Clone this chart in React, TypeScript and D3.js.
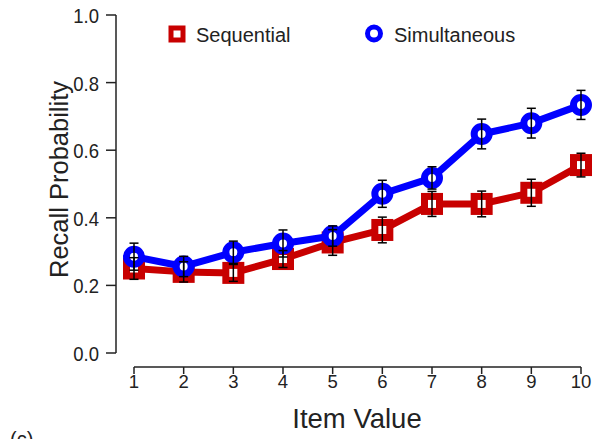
import React from "react";
import * as d3 from "d3";

const itemValues = [1, 2, 3, 4, 5, 6, 7, 8, 9, 10];
const sequential = [0.25, 0.24, 0.237, 0.278, 0.327, 0.364, 0.441, 0.441, 0.474, 0.556];
const sequentialErr = [0.032, 0.03, 0.025, 0.025, 0.038, 0.038, 0.037, 0.038, 0.04, 0.035];
const simultaneous = [0.285, 0.256, 0.298, 0.324, 0.346, 0.471, 0.518, 0.648, 0.68, 0.734];
const simultaneousErr = [0.04, 0.03, 0.033, 0.04, 0.03, 0.04, 0.033, 0.044, 0.044, 0.043];
const yTicks = [0, 0.2, 0.4, 0.6, 0.8, 1.0];
const xTicks = [1, 2, 3, 4, 5, 6, 7, 8, 9, 10];

const RED = "#c80000";
const BLUE = "#0000ff";
const TXT = "#222";
const FONT = "'Liberation Sans', Arial, sans-serif";

export default function App() {
  const W = 594, H = 439;
  const x = d3.scaleLinear().domain([1, 10]).range([134, 581]);
  const y = d3.scaleLinear().domain([0, 1]).range([353, 15]);
  const line = d3
    .line<number>()
    .x((_, i) => x(itemValues[i]))
    .y((d) => y(d));

  const errBars = (vals: number[], errs: number[], key: string) =>
    vals.map((v, i) => {
      const cx = x(itemValues[i]);
      const t = y(v + errs[i]);
      const b = y(v - errs[i]);
      return (
        <g key={key + i} stroke="#000" strokeWidth={1.5}>
          <line x1={cx} x2={cx} y1={t} y2={b} />
          <line x1={cx - 4.5} x2={cx + 4.5} y1={t} y2={t} />
          <line x1={cx - 4.5} x2={cx + 4.5} y1={b} y2={b} />
        </g>
      );
    });

  return (
    <svg width={W} height={H} style={{ position: "absolute", left: 0, top: 0 }} fontFamily={FONT}>
      <rect width={W} height={H} fill="#fff" />
      {/* y axis */}
      <line x1={116} x2={116} y1={y(1)} y2={y(0)} stroke="#222" strokeWidth={1.5} />
      {yTicks.map((t) => (
        <g key={"yt" + t}>
          <line x1={106} x2={116} y1={y(t)} y2={y(t)} stroke="#222" strokeWidth={1.5} />
          <text
            transform={`translate(99,${y(t) + 8}) scale(1,1.12)`}
            textAnchor="end"
            fontSize={18.5}
            fill={TXT}
          >
            {t.toFixed(1)}
          </text>
        </g>
      ))}
      {/* x axis */}
      <line x1={x(1)} x2={x(10)} y1={367} y2={367} stroke="#222" strokeWidth={1.5} />
      {xTicks.map((t) => (
        <g key={"xt" + t}>
          <line x1={x(t)} x2={x(t)} y1={367} y2={374} stroke="#222" strokeWidth={1.5} />
          <text x={x(t)} y={388} textAnchor="middle" fontSize={18.5} fill={TXT}>
            {t}
          </text>
        </g>
      ))}
      <text x={357} y={428} textAnchor="middle" fontSize={27.5} fill={TXT}>
        Item Value
      </text>
      <text
        transform={`translate(68,179.5) rotate(-90)`}
        textAnchor="middle"
        fontSize={25.5}
        fill={TXT}
      >
        Recall Probability
      </text>

      {/* sequential */}
      <path d={line(sequential) || ""} fill="none" stroke={RED} strokeWidth={7} strokeLinejoin="round" />
      {sequential.map((v, i) => (
        <rect
          key={"sq" + i}
          x={x(itemValues[i]) - 7.5}
          y={y(v) - 7.5}
          width={15}
          height={15}
          fill="#fff"
          stroke={RED}
          strokeWidth={7}
        />
      ))}
      {/* simultaneous */}
      <path d={line(simultaneous) || ""} fill="none" stroke={BLUE} strokeWidth={7} strokeLinejoin="round" />
      {simultaneous.map((v, i) => (
        <circle key={"ci" + i} cx={x(itemValues[i])} cy={y(v)} r={7.5} fill="#fff" stroke={BLUE} strokeWidth={7} />
      ))}
      {errBars(sequential, sequentialErr, "es")}
      {errBars(simultaneous, simultaneousErr, "eb")}

      {/* legend */}
      <rect x={177 - 6} y={34 - 6} width={12} height={12} fill="#fff" stroke={RED} strokeWidth={5} />
      <text x={196} y={42} fontSize={20} fill={TXT}>Sequential</text>
      <circle cx={374} cy={33.5} r={6.5} fill="#fff" stroke={BLUE} strokeWidth={5} />
      <text x={394} y={42} fontSize={20} fill={TXT}>Simultaneous</text>

      <text x={10} y={446} fontSize={20} fill={TXT}>(c)</text>
    </svg>
  );
}
